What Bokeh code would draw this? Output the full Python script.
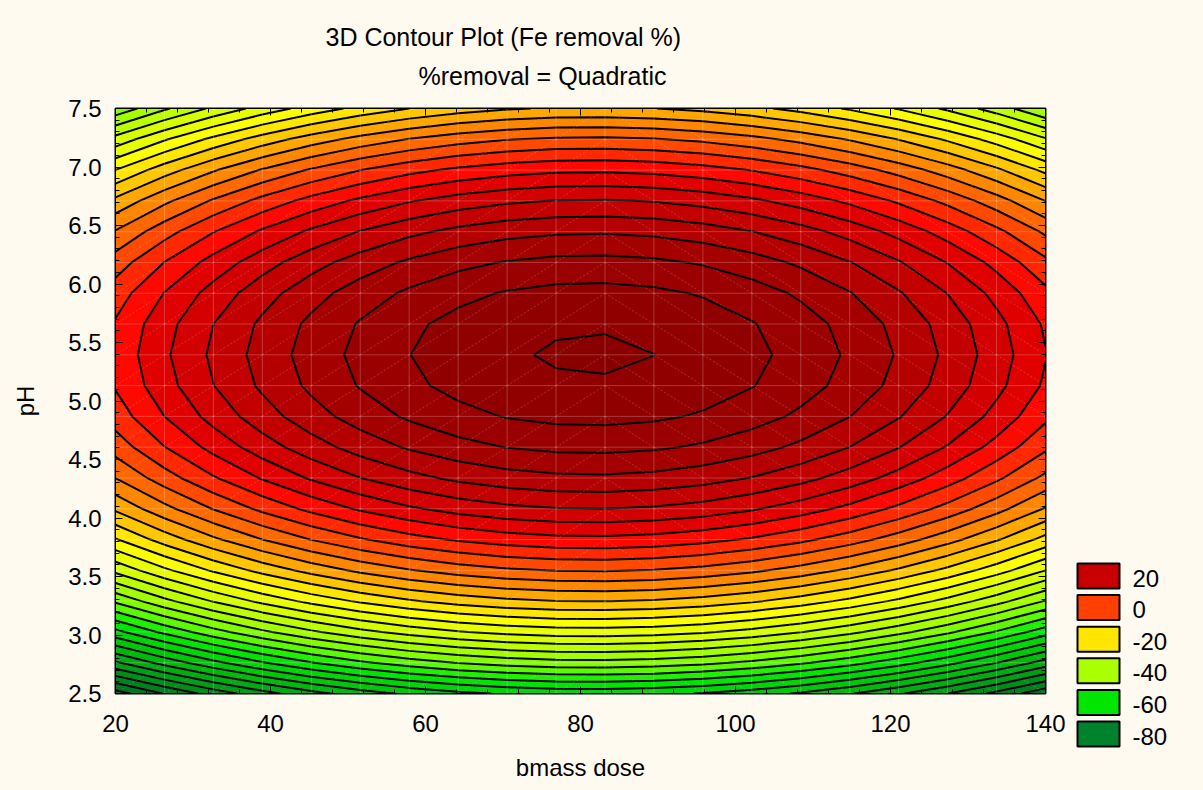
import numpy as np
from bokeh.plotting import figure
from bokeh.layouts import row, column
from bokeh.core.properties import value
from bokeh.models import (Range1d, FixedTicker, LinearAxis, Title,
                          PrintfTickFormatter, CustomJSTickFormatter)
from bokeh.embed import file_html
from bokeh.resources import INLINE

# ---------------- data (fitted quadratic surface) ----------------
peak_removal = 40.55      # % removal at the optimum
peak_dose = 81.5          # bmass dose at the optimum
peak_ph = 5.40            # pH at the optimum
coef_dose = 0.00828       # curvature along dose
coef_ph = 11.78           # curvature along pH

dose_range = [20, 140]
ph_range = [2.5, 7.5]
grid_points = 20          # surface mesh used by the original software

x_ticks = [20, 40, 60, 80, 100, 120, 140]
y_ticks = [2.5, 3.0, 3.5, 4.0, 4.5, 5.0, 5.5, 6.0, 6.5, 7.0, 7.5]
contour_levels = [-96, -92, -88, -84, -80, -76, -72, -68, -64, -60, -56, -52, -48, -44,
                  -40, -36, -32, -28, -24, -20, -16, -12, -8, -4, 0, 4, 8, 12, 16, 20,
                  24, 28, 32, 36, 40, 44]

legend_labels = ["20", "0", "-20", "-40", "-60", "-80"]
legend_colors = ["#c80000", "#ff4000", "#ffe600", "#aaff00", "#00e600", "#00822d"]

title_1 = "3D Contour Plot (Fe removal %)"
title_2 = "%removal = Quadratic"
x_label = "bmass dose"
y_label = "pH"

# colour scale stops (value -> rgb)
stop_values = [44, 38, 30, 22, 14, 11, -21, -30, -40, -46, -52, -65, -80, -96]
stop_rgb = [(135, 0, 0), (145, 0, 0), (165, 0, 0), (195, 0, 0), (225, 0, 0), (255, 0, 0),
            (255, 255, 0), (215, 255, 0), (150, 255, 0), (90, 250, 0), (0, 235, 0),
            (0, 190, 10), (0, 135, 30), (0, 90, 40)]

BG = "#fffaf0"
FONT = "Liberation Sans"

# ---------------- surface ----------------
gx = np.linspace(dose_range[0], dose_range[1], grid_points)
gy = np.linspace(ph_range[0], ph_range[1], grid_points)
X, Y = np.meshgrid(gx, gy)
Z = peak_removal - coef_dose * (X - peak_dose) ** 2 - coef_ph * (Y - peak_ph) ** 2


def band_color(v):
    sv = np.array(stop_values[::-1], dtype=float)
    rgb = np.array(stop_rgb[::-1], dtype=float)
    r = np.interp(v, sv, rgb[:, 0])
    g = np.interp(v, sv, rgb[:, 1])
    b = np.interp(v, sv, rgb[:, 2])
    return "#%02x%02x%02x" % (int(round(r)), int(round(g)), int(round(b)))


mids = [(contour_levels[i] + contour_levels[i + 1]) / 2 for i in range(len(contour_levels) - 1)]
fill_colors = [band_color(m) for m in mids]

# ---------------- main figure ----------------
p = figure(width=1065, height=790, title=None,
           x_range=Range1d(dose_range[0], dose_range[1]),
           y_range=Range1d(ph_range[0], ph_range[1]),
           output_backend="svg", toolbar_location=None,
           min_border_left=115, min_border_right=20, min_border_top=108, min_border_bottom=97,
           background_fill_color=BG, border_fill_color=BG,
           x_axis_label=x_label, y_axis_label=y_label)
p.xgrid.visible = False
p.ygrid.visible = False
p.outline_line_color = "black"
p.outline_line_width = 2

p.contour(x=gx, y=gy, z=Z, levels=contour_levels, fill_color=fill_colors,
          line_color="black", line_width=2)

# faint surface mesh
x0s, y0s, x1s, y1s = [], [], [], []
for xv in gx:
    x0s.append(xv); y0s.append(ph_range[0]); x1s.append(xv); y1s.append(ph_range[1])
for yv in gy:
    x0s.append(dose_range[0]); y0s.append(yv); x1s.append(dose_range[1]); y1s.append(yv)
p.segment(x0=x0s, y0=y0s, x1=x1s, y1=y1s, line_color="white", line_alpha=0.22, line_width=1)

dx0, dy0, dx1, dy1 = [], [], [], []
split = grid_points // 2
for i in range(grid_points - 1):
    for j in range(grid_points - 1):
        if i < split:
            dx0.append(gx[i]); dy0.append(gy[j]); dx1.append(gx[i + 1]); dy1.append(gy[j + 1])
        else:
            dx0.append(gx[i]); dy0.append(gy[j + 1]); dx1.append(gx[i + 1]); dy1.append(gy[j])
p.segment(x0=dx0, y0=dy0, x1=dx1, y1=dy1, line_color="white", line_alpha=0.2,
          line_width=1, line_dash="2 2")

# ---------------- axes ----------------
x_minor = list(np.round(np.arange(20, 140.01, 4), 6))
y_minor = list(np.round(np.arange(2.5, 7.501, 0.1), 6))
xt = FixedTicker(ticks=x_ticks, minor_ticks=x_minor)
yt = FixedTicker(ticks=y_ticks, minor_ticks=y_minor)

for ax, t in ((p.xaxis[0], xt), (p.yaxis[0], yt)):
    ax.ticker = t
    ax.major_tick_in = 7
    ax.major_tick_out = 0
    ax.minor_tick_in = 4
    ax.minor_tick_out = 0
    ax.major_tick_line_color = "black"
    ax.minor_tick_line_color = "black"
    ax.axis_line_color = "black"
    ax.major_label_text_font = FONT
    ax.major_label_text_font_size = "24px"
    ax.major_label_text_color = "black"
    ax.axis_label_text_font = FONT
    ax.axis_label_text_font_size = "24px"
    ax.axis_label_text_font_style = "normal"
    ax.axis_label_text_color = "black"
p.yaxis[0].formatter = PrintfTickFormatter(format="%.1f")
p.xaxis[0].major_label_standoff = 21
p.yaxis[0].major_label_standoff = 14
p.xaxis[0].axis_label_standoff = 19
p.yaxis[0].axis_label_standoff = 26

for loc, t in (("right", yt), ("above", xt)):
    a = LinearAxis(ticker=t, formatter=CustomJSTickFormatter(code="return ''"),
                   major_tick_in=7, major_tick_out=0, minor_tick_in=4, minor_tick_out=0,
                   major_tick_line_color="black", minor_tick_line_color="black",
                   axis_line_color="black", major_label_standoff=0)
    p.add_layout(a, loc)

# ---------------- titles ----------------
p.add_layout(Title(text=title_2, align="left", offset=303, standoff=38,
                   text_font=FONT, text_font_size="25px", text_font_style="normal",
                   text_color="black"), "above")
p.add_layout(Title(text=title_1, align="left", offset=210, standoff=-20,
                   text_font=FONT, text_font_size="25px", text_font_style="normal",
                   text_color="black"), "above")

# ---------------- legend (separate panel on the right, pixel-like coordinates) ----------------
leg = figure(width=138, height=790, x_range=Range1d(0, 138), y_range=Range1d(790, 0),
             output_backend="svg", toolbar_location=None, min_border=0,
             x_axis_location=None, y_axis_location=None,
             background_fill_color=BG, border_fill_color=BG)
leg.outline_line_color = None
leg.xgrid.visible = False
leg.ygrid.visible = False
if "frame_align" in leg.properties():
    leg.frame_align = False
    p.frame_align = False

box_y = [575.5 + 31.6 * i for i in range(len(legend_labels))]
leg.rect(x=[33] * len(legend_labels), y=box_y, width=42, height=25,
         fill_color=legend_colors, line_color="black", line_width=2)
leg.text(x=[67] * len(legend_labels), y=[v + 2 for v in box_y], text=legend_labels,
         text_font=value(FONT), text_font_size=value("24px"), text_color="black",
         text_baseline="middle", text_align="left")

layout = row(p, column(leg))
html = file_html(layout, INLINE, title="3D Contour Plot")
html = html.replace("<head>", "<head><style>html,body{background:%s;}</style>" % BG, 1)
open("out.html", "w").write(html)
